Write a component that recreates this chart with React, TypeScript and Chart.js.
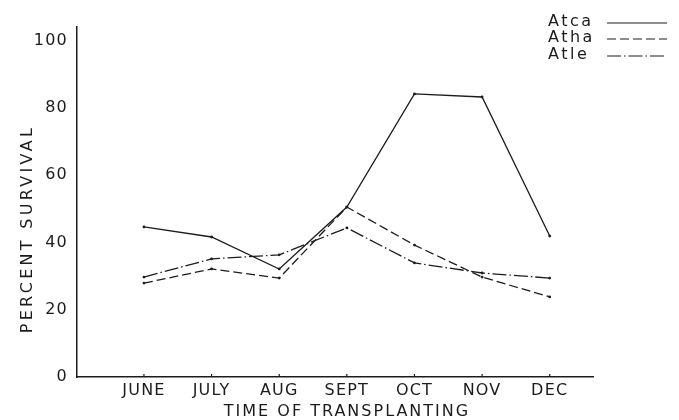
import React, { useEffect, useRef } from 'react';
import { Chart, registerables } from 'chart.js';

Chart.register(...registerables);

const months = ['JUNE', 'JULY', 'AUG', 'SEPT', 'OCT', 'NOV', 'DEC'];
const atca = [44.6, 41.6, 32.1, 50.5, 84.1, 83.2, 41.9];
const atha = [27.9, 32.1, 29.4, 50.5, 39.2, 29.7, 23.8];
const atle = [29.7, 35.1, 36.3, 44.3, 33.9, 30.9, 29.4];
const seriesNames = ['Atca', 'Atha', 'Atle'];
const yTicks = [0, 20, 40, 60, 80, 100];
const xTitle = 'TIME OF TRANSPLANTING';
const yTitle = 'PERCENT SURVIVAL';

const INK = '#1c1c1c';
const FONT = '"DejaVu Sans", sans-serif';
const dashes: number[][] = [[], [9, 4], [14, 3, 1.5, 3]];

const toPoints = (arr: number[]) => arr.map((v, i) => ({ x: i, y: v }));

const decor = {
  id: 'decor',
  beforeDraw(chart: any) {
    (chart.ctx as any).letterSpacing = '1.2px';
  },
  afterDraw(chart: any) {
    const ctx = chart.ctx as any;
    const xs = chart.scales.x;
    const ys = chart.scales.y;
    ctx.save();
    // small tick marks above the x axis
    ctx.strokeStyle = INK;
    ctx.lineWidth = 1.2;
    ctx.setLineDash([]);
    months.forEach((_, i) => {
      const px = xs.getPixelForValue(i);
      ctx.beginPath();
      ctx.moveTo(px, ys.bottom);
      ctx.lineTo(px, ys.bottom - 3);
      ctx.stroke();
    });
    ctx.fillStyle = INK;
    ctx.font = `16px ${FONT}`;
    ctx.textBaseline = 'middle';
    // x title
    ctx.letterSpacing = '2px';
    ctx.textAlign = 'center';
    ctx.fillText(xTitle, 347, 412);
    // legend
    ctx.textAlign = 'left';
    ctx.letterSpacing = '2.5px';
    const rows = [22, 38, 55];
    seriesNames.forEach((name, i) => {
      ctx.fillText(name, 548, rows[i]);
      ctx.beginPath();
      ctx.setLineDash(dashes[i]);
      ctx.lineWidth = 1.2;
      ctx.moveTo(607, rows[i] + 1);
      ctx.lineTo(667, rows[i] + 1);
      ctx.stroke();
    });
    ctx.setLineDash([]);
    // y title
    ctx.letterSpacing = '3.3px';
    ctx.textAlign = 'center';
    ctx.translate(28, 229);
    ctx.rotate(-Math.PI / 2);
    ctx.fillText(yTitle, 0, 0);
    ctx.restore();
  },
};

export default function App() {
  const ref = useRef<HTMLCanvasElement | null>(null);
  useEffect(() => {
    if (!ref.current) return;
    const series = [atca, atha, atle];
    const chart = new Chart(ref.current, {
      type: 'line',
      data: {
        datasets: series.map((s, i) => ({
          label: seriesNames[i],
          data: toPoints(s),
          borderColor: INK,
          borderWidth: 1.3,
          borderDash: dashes[i],
          pointRadius: 1.4,
          pointBackgroundColor: INK,
          pointBorderWidth: 0,
          tension: 0,
          fill: false,
        })),
      },
      options: {
        animation: false,
        responsive: false,
        devicePixelRatio: 1,
        layout: { padding: { top: 27, right: 86, left: 0, bottom: 0 } },
        plugins: { legend: { display: false }, tooltip: { enabled: false } },
        scales: {
          x: {
            type: 'linear',
            min: -0.99,
            max: 6.64,
            grid: { display: false, drawTicks: false },
            border: { display: true, color: INK, width: 1.5 },
            afterBuildTicks: (s: any) => {
              s.ticks = months.map((_, i) => ({ value: i }));
            },
            afterFit: (s: any) => {
              s.height = 43;
            },
            ticks: {
              autoSkip: false,
              maxRotation: 0,
              padding: 4,
              color: INK,
              font: { family: FONT, size: 16 },
              callback: (v: any) => months[v] ?? '',
            },
          },
          y: {
            type: 'linear',
            min: 0,
            max: 104,
            grid: { display: false, drawTicks: false },
            border: { display: true, color: INK, width: 1.5 },
            afterBuildTicks: (s: any) => {
              s.ticks = yTicks.map((v) => ({ value: v }));
            },
            afterFit: (s: any) => {
              s.width = 77;
            },
            ticks: {
              padding: 9,
              color: INK,
              font: { family: FONT, size: 16 },
              callback: (v: any) => String(v),
            },
          },
        },
      },
      plugins: [decor],
    });
    return () => chart.destroy();
  }, []);
  return (
    <div style={{ position: 'fixed', left: 0, top: 0, width: 679, height: 420, background: '#fff' }}>
      <canvas ref={ref} width={679} height={420} style={{ display: 'block', width: 679, height: 420 }} />
    </div>
  );
}
